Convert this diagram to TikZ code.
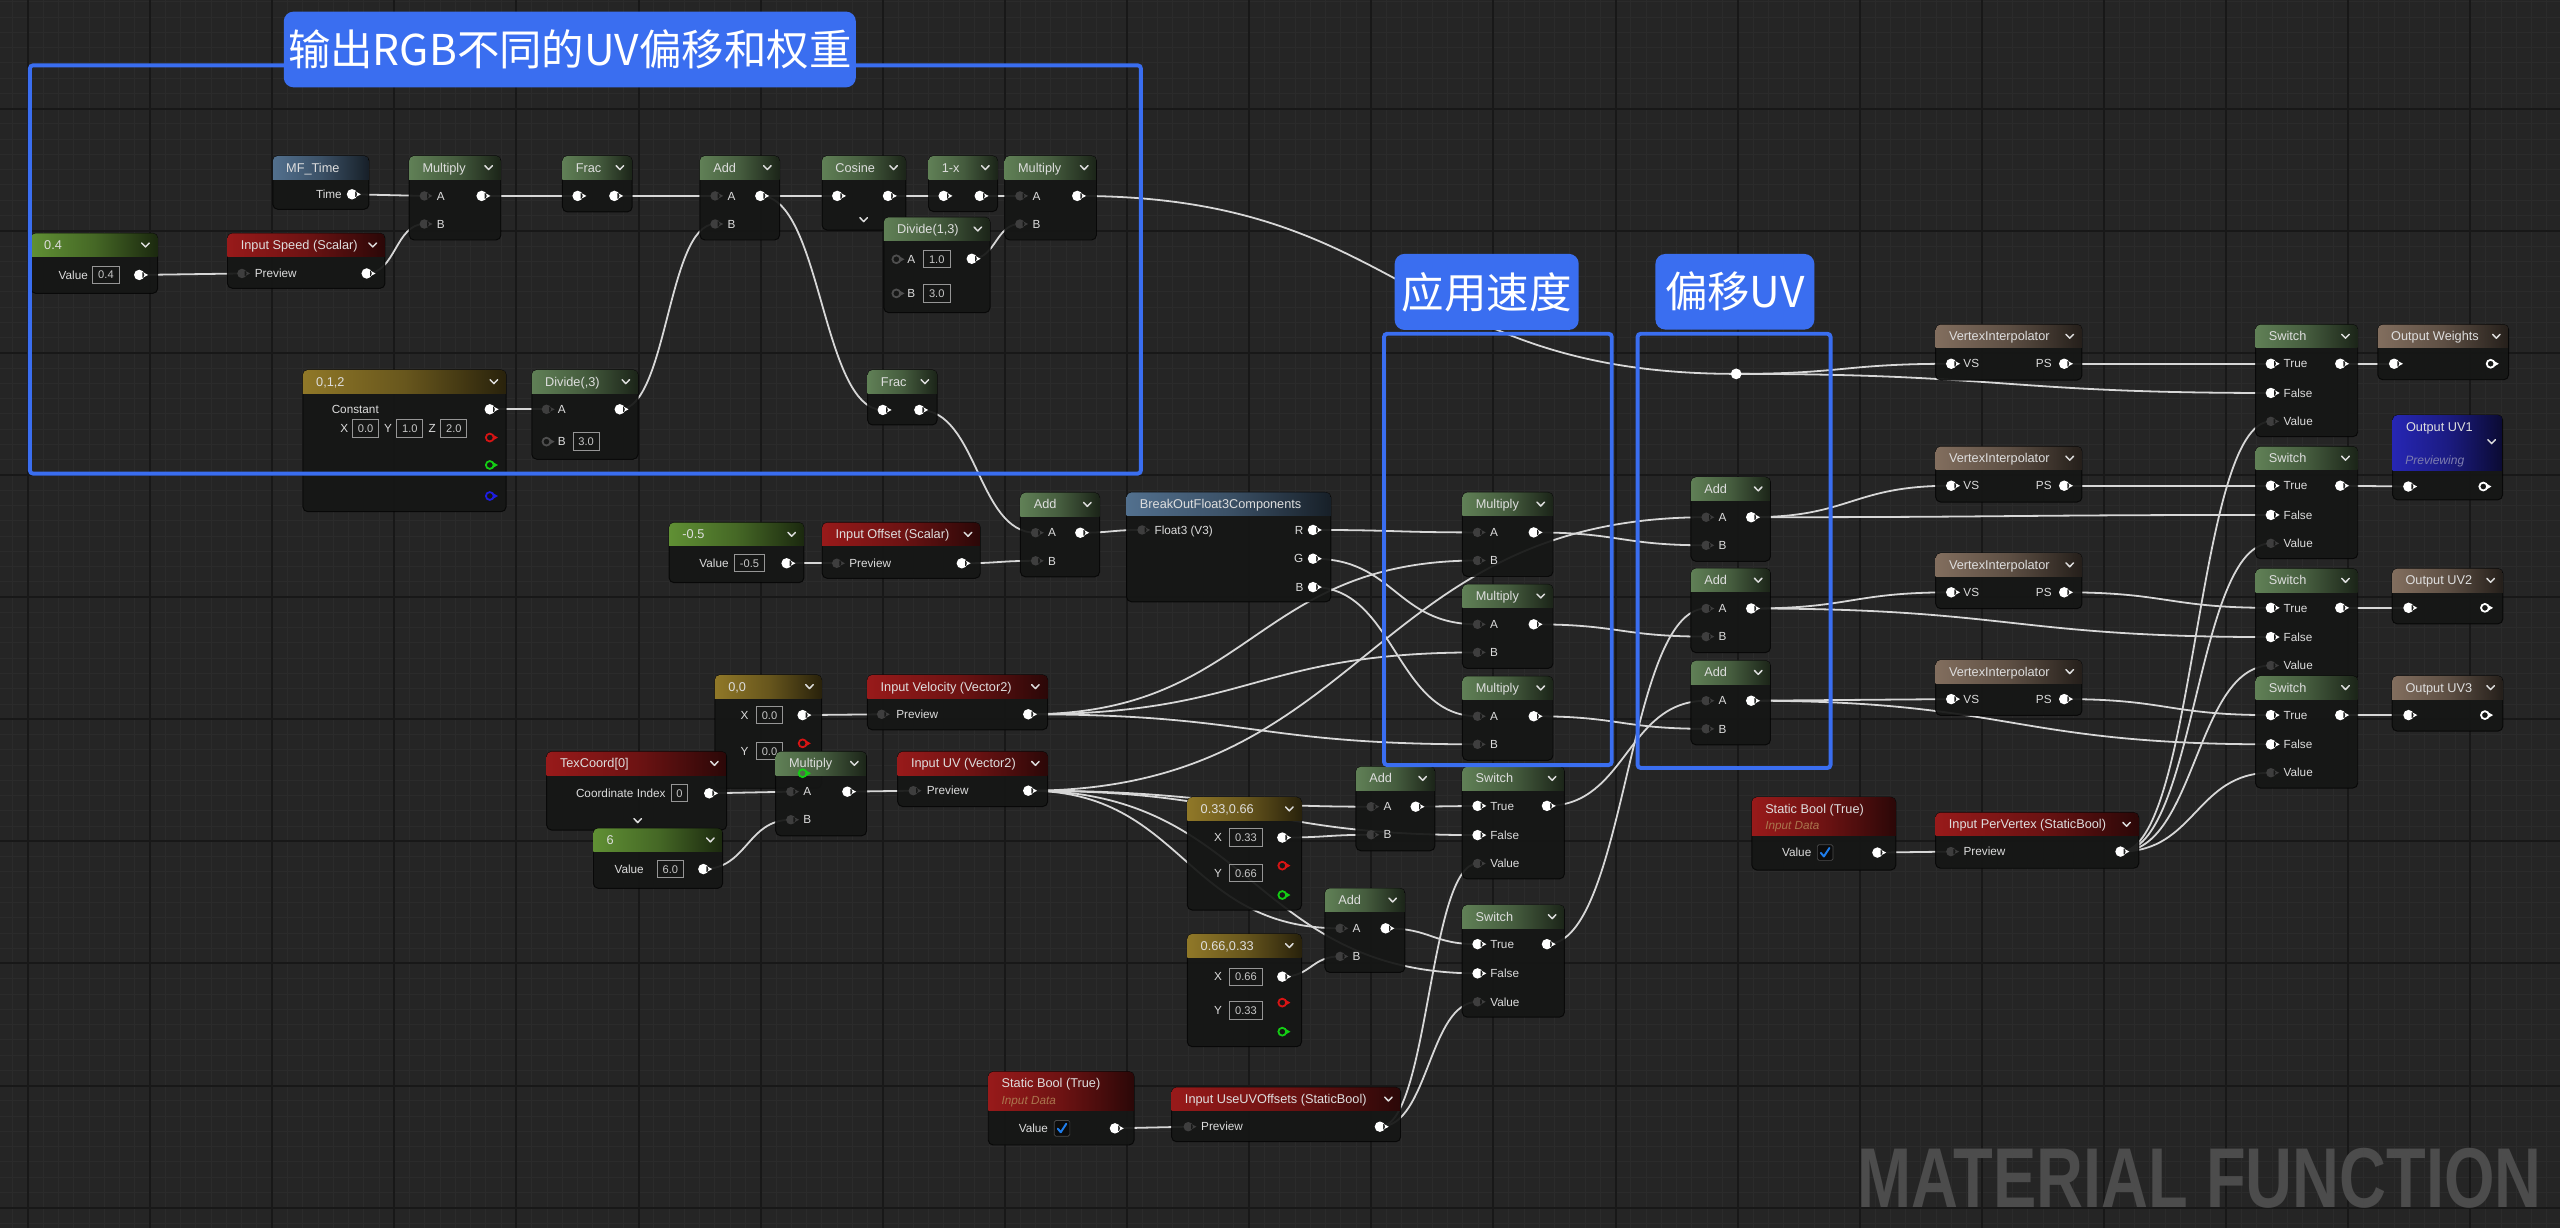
\documentclass[tikz,border=0pt]{standalone}
\usepackage{fontspec}
\setmainfont{Liberation Sans}
\newfontfamily\cjkf{Noto Sans CJK SC}
\usetikzlibrary{calc}

\definecolor{bgc}{RGB}{37,37,37}
\definecolor{gminor}{RGB}{43,43,43}
\definecolor{gmajor}{RGB}{24,24,24}
\definecolor{bodyc}{RGB}{21,22,21}
\definecolor{wirec}{RGB}{215,215,215}
\definecolor{pind}{RGB}{62,62,62}
\definecolor{pinring}{RGB}{78,78,78}
\definecolor{hgreen}{RGB}{96,128,86}
\definecolor{hscal}{RGB}{96,144,52}
\definecolor{hred}{RGB}{152,26,26}
\definecolor{hgold}{RGB}{144,120,40}
\definecolor{hbgray}{RGB}{82,112,142}
\definecolor{hbrown}{RGB}{130,110,94}
\definecolor{hblue}{RGB}{38,38,180}
\definecolor{annot}{RGB}{58,110,240}
\definecolor{htxt}{RGB}{222,222,222}
\definecolor{btxt}{RGB}{220,220,220}
\definecolor{vtxt}{RGB}{200,200,200}
\definecolor{vbord}{RGB}{150,150,150}
\definecolor{wmc}{RGB}{76,76,76}
\definecolor{idata}{RGB}{170,118,78}
\definecolor{chk}{RGB}{30,125,235}
\definecolor{prevc}{RGB}{125,125,175}
\definecolor{pinred}{RGB}{215,20,20}
\definecolor{pingreen}{RGB}{20,205,20}
\definecolor{pinblue}{RGB}{30,30,225}

\pgfdeclarelayer{bg}
\pgfdeclarelayer{wires}
\pgfdeclarelayer{pins}
\pgfdeclarelayer{annot}
\pgfsetlayers{bg,wires,main,pins,annot}

\tikzset{
  uebody/.style={rectangle, rounded corners=3pt, fill=bodyc, fill opacity=0.93, draw=black, draw opacity=0.7, line width=0.6pt, inner sep=0pt, outer sep=0pt},
  htext/.style={inner sep=0pt, text=htxt, font=\fontsize{7.8}{9}\selectfont, text height=5.6pt, text depth=0pt},
  btext/.style={inner sep=0pt, text=btxt, font=\fontsize{7.2}{8.5}\selectfont, text height=5.15pt, text depth=0pt},
  idtext/.style={inner sep=0pt, text=idata, font=\itshape\fontsize{7.2}{8.5}\selectfont, text height=5.15pt, text depth=0pt},
  vbox/.style={draw=vbord, line width=0.6pt, inner sep=0pt, minimum height=10.6pt, text=vtxt, font=\fontsize{6.8}{8}\selectfont, text height=4.9pt, text depth=0pt},
  chevst/.style={draw=htxt, line width=0.9pt, line cap=round, line join=round},
  wire/.style={draw=wirec, line width=1.1pt},
  annbox/.style={draw=annot, line width=2.4pt, rounded corners=2pt, inner sep=0pt},
  anntab/.style={fill=annot, rounded corners=6pt, inner sep=0pt, text=white, font=\cjkf\fontsize{26}{30}\selectfont},
}

\newcounter{lbn}
\newcommand\uen[8]{%
  \pgfmathsetmacro\uw{#4-(#2)}%
  \pgfmathsetmacro\uh{#5-(#3)}%
  \node[uebody, minimum width=\uw pt, minimum height=\uh pt, anchor=north west] (#1) at (#2,#3) {};%
  \begin{scope}%
    \clip[rounded corners=3pt] (#2,#3) rectangle (#4,#5);%
    \shade[left color=#6, right color=#6!28!black, middle color=#6!72!black] (#2,#3) rectangle (#4,#3+#7);%
  \end{scope}%
  \node[htext, anchor=west] (#1t) at (#2+8,#3+7.15) {#8};%
}
\newcommand\chev[2]{\draw[chevst] (#1-2.3,#2-1.2) -- (#1,#2+1.2) -- (#1+2.3,#2-1.2);}
\newcommand\pinD[3]{\coordinate (#1) at (#2,#3);\begin{pgfonlayer}{pins}\fill[pind,shift={(#2,#3)}] (0,0) circle[radius=2.9pt] (1.6,-1.8) -- (5,0) -- (1.6,1.8) -- cycle;\end{pgfonlayer}}
\newcommand\pinW[3]{\coordinate (#1) at (#2,#3);\begin{pgfonlayer}{pins}\fill[white,shift={(#2,#3)}] (0,0) circle[radius=3.2pt] (1.9,-1.9) -- (5.4,0) -- (1.9,1.9) -- cycle;\end{pgfonlayer}}
\newcommand\pinC[4]{\coordinate (#1) at (#2,#3);\begin{pgfonlayer}{pins}\draw[#4,line width=1.1pt,shift={(#2,#3)}] (0,0) circle[radius=2.4pt];\fill[#4,shift={(#2,#3)}] (2.2,-1.6) -- (5,0) -- (2.2,1.6) -- cycle;\end{pgfonlayer}}
\newcommand\lblL[3]{\stepcounter{lbn}\node[btext,anchor=west] (lb\arabic{lbn}) at (#1,#2) {#3};}
\newcommand\lblR[3]{\stepcounter{lbn}\node[btext,anchor=east] (lb\arabic{lbn}) at (#1,#2) {#3};}
\newcommand\vbx[4]{\pgfmathsetmacro\vbw{#2-(#1)}\stepcounter{lbn}\node[vbox, minimum width=\vbw pt] (vb\arabic{lbn}) at ({(#1+#2)/2},#3) {#4};}
\newcommand\cbox[2]{\stepcounter{lbn}\node[draw={rgb,255:red,75;green,75;blue,75}, fill={rgb,255:red,12;green,12;blue,12}, minimum size=9.6pt, inner sep=0pt, rounded corners=1pt] (cb\arabic{lbn}) at (#1,#2) {};
  \draw[chk, line width=1.2pt, line cap=round, line join=round] (#1-2.6,#2+0.2) -- (#1-0.8,#2+2.4) -- (#1+2.6,#2-2.8);}
\newcommand\abnode[5]{\uen{#1}{#2}{#3}{#4}{#3+51.5}{hgreen}{14.3}{#5}\chev{#4-7.5}{#3+7.15}%
  \pinD{#1A}{#2+9.3}{#3+24.5}\pinD{#1B}{#2+9.3}{#3+41.7}\pinW{#1O}{#4-11.8}{#3+24.5}%
  \lblL{#2+16.8}{#3+24.5}{A}\lblL{#2+16.8}{#3+41.7}{B}}
\newcommand\onode[6]{\uen{#1}{#2}{#3}{#4}{#5}{hgreen}{14.3}{#6}\chev{#4-7.5}{#3+7.15}%
  \pinW{#1I}{#2+9.3}{#3+24.5}\pinW{#1O}{#4-10.9}{#3+24.5}}
\newcommand\swnode[3]{\uen{#1}{#2}{#3}{#2+62.6}{#3+68.7}{hgreen}{14.3}{Switch}\chev{#2+55.1}{#3+7.15}%
  \pinW{#1T}{#2+9.4}{#3+24}\pinW{#1F}{#2+9.4}{#3+41.9}\pinD{#1V}{#2+9.4}{#3+59.3}\pinW{#1O}{#2+51.9}{#3+24}%
  \lblL{#2+17}{#3+24}{True}\lblL{#2+17}{#3+41.9}{False}\lblL{#2+17}{#3+59.3}{Value}}
\newcommand\vinode[3]{\uen{#1}{#2}{#3}{#2+89.6}{#3+34}{hbrown}{14.3}{VertexInterpolator}\chev{#2+82.1}{#3+7.15}%
  \pinW{#1I}{#2+9.5}{#3+24}\pinW{#1O}{#2+78.7}{#3+24}\lblL{#2+16.8}{#3+24}{VS}\lblR{#2+71.2}{#3+24}{PS}}
\newcommand\outnode[5]{\uen{#1}{#2}{#3}{#4}{#3+33.8}{hbrown}{14.3}{#5}\chev{#4-7.5}{#3+7.15}%
  \pinW{#1I}{#2+10}{#3+24}\pinC{#1O}{#4-11}{#3+24}{white}}
\newcommand\wire[2]{\draw[wire] let \p1=(#1), \p2=(#2), \n1={max(0.5*abs(\x2-\x1),8)} in (\p1) .. controls +(\n1,0) and +(-\n1,0) .. (\p2);}

\begin{document}
\begin{tikzpicture}[x=1pt,y=-1pt]
\useasboundingbox (0,0) rectangle (1568,752);
\begin{pgfonlayer}{bg}
\fill[bgc] (0,0) rectangle (1568,752);
\foreach \i in {-2,...,166} {\draw[gminor, line width=0.5pt] (17.1+9.35*\i,0) -- (17.1+9.35*\i,752);}
\foreach \j in {-8,...,73} {\draw[gminor, line width=0.5pt] (0,66.5+9.35*\j) -- (1568,66.5+9.35*\j);}
\foreach \i in {0,...,20} {\draw[gmajor, line width=1.2pt] (17.1+74.8*\i,0) -- (17.1+74.8*\i,752);}
\foreach \j in {-1,...,9} {\draw[gmajor, line width=1.2pt] (0,66.5+74.8*\j) -- (1568,66.5+74.8*\j);}
\end{pgfonlayer}

% ---------- top chain ----------
\uen{mft}{167.1}{95.5}{226}{128.2}{hbgray}{14.3}{MF\_Time}
\pinW{mftT}{215.6}{119}\lblR{209.5}{119}{Time}
\abnode{mul1}{250.6}{95.5}{306.8}{Multiply}
\onode{frac1}{344.5}{95.5}{387.2}{129.8}{Frac}
\abnode{add1}{428.7}{95.5}{477.5}{Add}
\onode{cos}{503.5}{95.5}{554.8}{140.9}{Cosine}\chev{529}{134.5}
\onode{omx}{568.7}{95.5}{611}{129.6}{1-x}
\abnode{mul2}{615.4}{95.5}{671.6}{Multiply}
\uen{d13}{541.3}{133.1}{606.4}{191.5}{hgreen}{14.3}{Divide(1,3)}\chev{598.9}{140.25}
\pinC{d13A}{549}{158.8}{pinring}\lblL{555.5}{158.8}{A}\vbx{565.5}{582}{158.8}{1.0}
\pinC{d13B}{549}{179.7}{pinring}\lblL{555.5}{179.7}{B}\vbx{565.5}{582}{179.7}{3.0}
\pinW{d13O}{595.2}{158.5}

\uen{c04}{18.9}{142.9}{96.6}{179.7}{hscal}{14.3}{0.4}\chev{89.1}{150.05}
\lblR{54}{168.4}{Value}\vbx{56.6}{73.2}{168.4}{0.4}\pinW{c04O}{85.3}{168.4}
\uen{isp}{139.3}{142.9}{235.8}{176.6}{hred}{14.3}{Input Speed (Scalar)}\chev{228.3}{150.05}
\pinD{ispI}{148.2}{167.5}\lblL{155.9}{167.5}{Preview}\pinW{ispO}{224.6}{167.5}

\uen{c012}{185.5}{226.6}{310}{313.4}{hgold}{14.3}{0,1,2}\chev{302.5}{233.75}
\lblL{203}{250.7}{Constant}\pinW{c012O}{300}{250.7}
\lblL{208.3}{262.4}{X}\vbx{216}{231.8}{262.4}{0.0}
\lblL{235}{262.4}{Y}\vbx{243}{259}{262.4}{1.0}
\lblL{262.3}{262.4}{Z}\vbx{270}{286}{262.4}{2.0}
\pinC{c012R}{300}{268}{pinred}\pinC{c012G}{300}{284.8}{pingreen}\pinC{c012B}{300}{303.8}{pinblue}

\uen{d3}{325.7}{226.6}{390.8}{281.3}{hgreen}{14.3}{Divide(,3)}\chev{383.3}{233.75}
\pinD{d3A}{334.7}{250.7}\lblL{341.5}{250.7}{A}\pinW{d3O}{379.6}{250.7}
\pinC{d3B}{334.7}{270.5}{pinring}\lblL{341.5}{270.5}{B}\vbx{351}{367}{270.5}{3.0}
\onode{frac2}{531.4}{226.6}{574}{260.3}{Frac}

% ---------- offset / breakout ----------
\uen{cm05}{409.8}{320.1}{492.4}{356.9}{hscal}{14.3}{-0.5}\chev{484.9}{327.25}
\lblR{446.5}{345}{Value}\vbx{449.6}{468.5}{345}{-0.5}\pinW{cm05O}{481.8}{345}
\uen{ioff}{503.6}{320.1}{600.4}{354.2}{hred}{14.3}{Input Offset (Scalar)}\chev{592.9}{327.25}
\pinD{ioffI}{512.5}{345}\lblL{520}{345}{Preview}\pinW{ioffO}{589.1}{345}
\abnode{add2}{625}{301.8}{673.5}{Add}
\uen{brk}{690}{301.6}{815.1}{368.6}{hbgray}{14.3}{BreakOutFloat3Components}
\pinD{brkI}{699.5}{324.6}\lblL{707}{324.6}{Float3 (V3)}
\pinW{brkR}{804.2}{324.6}\lblR{798.5}{324.6}{R}
\pinW{brkG}{804.2}{342.2}\lblR{798.5}{342.2}{G}
\pinW{brkB}{804.2}{359.6}\lblR{798.5}{359.6}{B}

\abnode{mr}{895.7}{301.6}{951.2}{Multiply}
\abnode{mg}{895.7}{357.9}{951.2}{Multiply}
\abnode{mb}{895.7}{414.2}{951.2}{Multiply}
\abnode{au1}{1035.7}{292.3}{1084.4}{Add}
\abnode{au2}{1035.7}{348.2}{1084.4}{Add}
\abnode{au3}{1035.7}{404.7}{1084.4}{Add}
\coordinate (rr) at (1063.4,229);
\begin{pgfonlayer}{pins}\fill[white] (rr) circle[radius=3.3pt];\end{pgfonlayer}

% ---------- right side ----------
\vinode{vi1}{1185.6}{198.8}
\vinode{vi2}{1185.6}{273.5}
\vinode{vi3}{1185.6}{338.8}
\vinode{vi4}{1185.6}{404.2}
\swnode{sw1}{1381.5}{198.8}
\swnode{sw2}{1381.5}{273.5}
\swnode{sw3}{1381.5}{348.3}
\swnode{sw4}{1381.5}{414}
\outnode{ow}{1456.4}{198.8}{1536.5}{Output Weights}
\uen{ouv1}{1465.5}{254.2}{1532.8}{306.2}{hblue}{33.7}{Output UV1}\chev{1526.1}{270.5}
\node[inner sep=0pt, anchor=west, text=prevc, font=\itshape\fontsize{7.4}{9}\selectfont, text height=5.3pt, text depth=0pt] (ouv1p) at (1473,281.7) {Previewing};
\pinW{ouv1I}{1475.1}{298}\pinC{ouv1O}{1521}{298}{white}
\outnode{ouv2}{1465.2}{348.3}{1533}{Output UV2}
\outnode{ouv3}{1465.2}{414}{1533}{Output UV3}

% ---------- lower-left ----------
\uen{c00}{437.9}{413.4}{503.3}{482.8}{hgold}{14.3}{0,0}\chev{495.8}{420.55}
\lblL{453.5}{438}{X}\vbx{463.4}{479.2}{438}{0.0}\pinW{c00X}{491.6}{438}
\lblL{453.5}{460}{Y}\vbx{463.4}{479.2}{460}{0.0}
\uen{ivel}{531.2}{413.4}{641.7}{447}{hred}{14.3}{Input Velocity (Vector2)}\chev{634.2}{420.55}
\pinD{ivelI}{540}{437.5}\lblL{548.8}{437.5}{Preview}\pinW{ivelO}{629.8}{437.5}
\uen{texc}{334.8}{460.4}{445.1}{508.4}{hred}{14.3}{TexCoord[0]}\chev{437.6}{467.55}
\lblL{352.6}{485.9}{Coordinate Index}\vbx{411.4}{421}{485.9}{0}\pinW{texcO}{434.4}{485.9}\chev{390.6}{502.6}
\abnode{mul3}{475.1}{460.4}{530.8}{Multiply}
\pinC{c00R}{491.6}{455.3}{pinred}\pinC{c00G}{491.6}{473.6}{pingreen}
\uen{six}{363.4}{507.3}{442.6}{544.1}{hscal}{14.3}{6}\chev{435.1}{514.45}
\lblR{394.5}{532.3}{Value}\vbx{402.6}{418.5}{532.3}{6.0}\pinW{sixO}{430.8}{532.3}
\uen{iuv}{549.8}{460.4}{641.7}{494}{hred}{14.3}{Input UV (Vector2)}\chev{634.2}{467.55}
\pinD{iuvI}{559.4}{484.3}\lblL{567.5}{484.3}{Preview}\pinW{iuvO}{629.8}{484.3}

\uen{c3366}{727.2}{488.3}{797.2}{557.4}{hgold}{14.3}{0.33,0.66}\chev{789.7}{495.45}
\lblL{743.5}{513}{X}\vbx{752.9}{773.4}{513}{0.33}\pinW{c3366X}{785.4}{513}
\lblL{743.5}{534.9}{Y}\vbx{752.9}{773.4}{534.9}{0.66}
\pinC{c3366R}{785.4}{530.2}{pinred}\pinC{c3366G}{785.4}{548.2}{pingreen}
\uen{c6633}{727.2}{572}{797.2}{641.1}{hgold}{14.3}{0.66,0.33}\chev{789.7}{579.15}
\lblL{743.5}{598.2}{X}\vbx{752.9}{773.4}{598.2}{0.66}\pinW{c6633X}{785.4}{598.2}
\lblL{743.5}{619}{Y}\vbx{752.9}{773.4}{619}{0.33}
\pinC{c6633R}{785.4}{614.1}{pinred}\pinC{c6633G}{785.4}{631.9}{pingreen}
\abnode{add4}{830.5}{469.6}{878.9}{Add}
\abnode{add5}{811.5}{544.1}{860.5}{Add}
\swnode{sw5}{895.6}{469.6}
\swnode{sw6}{895.6}{554.3}

\uen{sb1}{605.3}{656.4}{694.6}{701.3}{hred}{23.5}{Static Bool (True)}
\node[idtext, anchor=west] (sb1d) at (613.3,673.7) {Input Data};
\lblR{642.1}{691.1}{Value}\cbox{650.5}{691.1}\pinW{sb1O}{682.9}{691.1}
\uen{iuo}{717.6}{666}{857.9}{699.3}{hred}{14.3}{Input UseUVOffsets (StaticBool)}\chev{850.4}{673.15}
\pinD{iuoI}{727.8}{690.1}\lblL{735.5}{690.1}{Preview}\pinW{iuoO}{845.2}{690.1}

\uen{sb2}{1073}{488.3}{1161.2}{532.9}{hred}{23.5}{Static Bool (True)}
\node[idtext, anchor=west] (sb2d) at (1081,505.6) {Input Data};
\lblR{1109.6}{522.2}{Value}\cbox{1117.9}{522.2}\pinW{sb2O}{1149.9}{522.2}
\uen{ipv}{1185.5}{497.7}{1310}{531.8}{hred}{14.3}{Input PerVertex (StaticBool)}\chev{1302.5}{504.85}
\pinD{ipvI}{1194.9}{521.6}\lblL{1202.5}{521.6}{Preview}\pinW{ipvO}{1298.8}{521.6}

\node[anchor=base west, inner sep=0pt, text=wmc, font=\bfseries\fontsize{52}{52}\selectfont] (wm) at (1137.5,739.5) {\scalebox{0.765}[1]{MATERIAL FUNCTION}};

% ---------- wires ----------
\begin{pgfonlayer}{wires}
\wire{mftT}{mul1A}\wire{ispO}{mul1B}\wire{c04O}{ispI}
\wire{mul1O}{frac1I}\wire{frac1O}{add1A}\wire{d3O}{add1B}\wire{c012O}{d3A}
\wire{add1O}{cosI}\wire{add1O}{frac2I}\wire{cosO}{omxI}\wire{omxO}{mul2A}\wire{d13O}{mul2B}
\wire{mul2O}{rr}\wire{rr}{vi1I}\wire{rr}{sw1F}
\wire{frac2O}{add2A}\wire{ioffO}{add2B}\wire{cm05O}{ioffI}\wire{add2O}{brkI}
\wire{brkR}{mrA}\wire{brkG}{mgA}\wire{brkB}{mbA}
\wire{ivelO}{mrB}\wire{ivelO}{mgB}\wire{ivelO}{mbB}\wire{c00X}{ivelI}
\wire{mrO}{au1B}\wire{mgO}{au2B}\wire{mbO}{au3B}
\wire{iuvO}{au1A}\wire{iuvO}{add4A}\wire{iuvO}{sw5F}\wire{iuvO}{add5A}\wire{iuvO}{sw6F}
\wire{sw5O}{au3A}\wire{sw6O}{au2A}
\wire{c3366X}{add4B}\wire{c6633X}{add5B}\wire{add4O}{sw5T}\wire{add5O}{sw6T}
\wire{iuoO}{sw5V}\wire{iuoO}{sw6V}\wire{sb1O}{iuoI}\wire{sb2O}{ipvI}
\wire{ipvO}{sw1V}\wire{ipvO}{sw2V}\wire{ipvO}{sw3V}\wire{ipvO}{sw4V}
\wire{vi1O}{sw1T}\wire{vi2O}{sw2T}\wire{vi3O}{sw3T}\wire{vi4O}{sw4T}
\wire{sw1O}{owI}\wire{sw2O}{ouv1I}\wire{sw3O}{ouv2I}\wire{sw4O}{ouv3I}
\wire{au1O}{vi2I}\wire{au1O}{sw2F}\wire{au2O}{vi3I}\wire{au2O}{sw3F}\wire{au3O}{vi4I}\wire{au3O}{sw4F}
\wire{texcO}{mul3A}\wire{sixO}{mul3B}\wire{mul3O}{iuvI}
\end{pgfonlayer}

% ---------- annotations ----------
\begin{pgfonlayer}{annot}
\node[annbox, minimum width=680.5pt, minimum height=250.1pt, anchor=north west] (box1) at (17.1,38.8) {};
\node[anntab, minimum width=350.4pt, minimum height=46.4pt] (tab1) at (349,30.3) {输出RGB不同的UV偏移和权重};
\node[annbox, minimum width=139.5pt, minimum height=264.2pt, anchor=north west] (box2) at (846.5,203.2) {};
\node[anntab, minimum width=112.7pt, minimum height=46.6pt] (tab2) at (910.6,178.8) {应用速度};
\node[annbox, minimum width=118.2pt, minimum height=266pt, anchor=north west] (box3) at (1001.8,203.2) {};
\node[anntab, minimum width=97.3pt, minimum height=46.3pt] (tab3) at (1062.6,178.7) {偏移UV};
\end{pgfonlayer}
\end{tikzpicture}
\end{document}
